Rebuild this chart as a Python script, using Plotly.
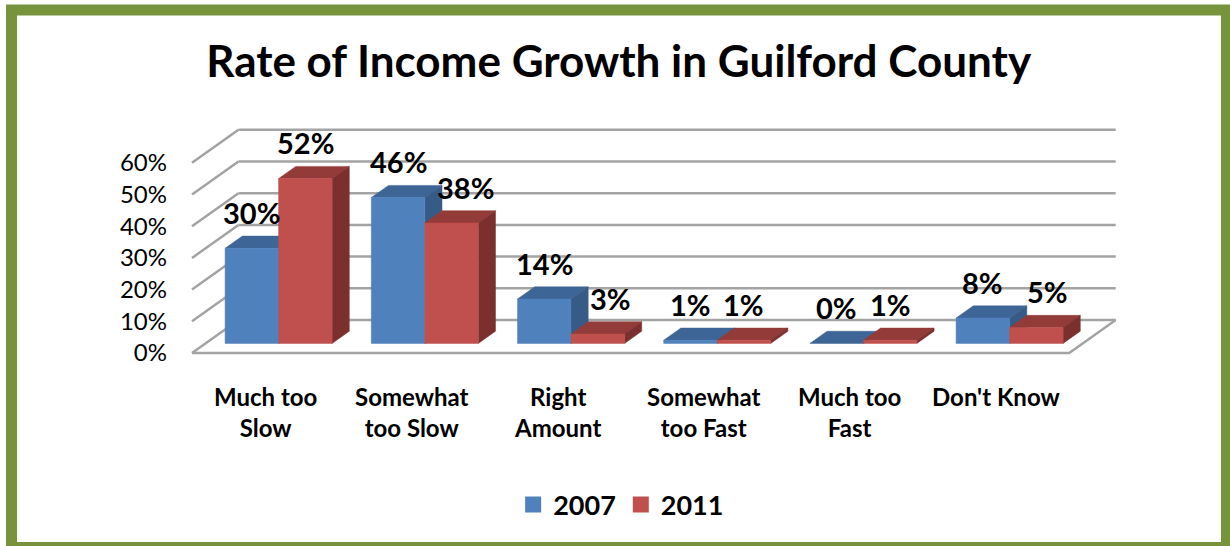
import plotly.graph_objects as go

# ---- data ----
categories = ["Much too<br>Slow", "Somewhat<br>too Slow", "Right<br>Amount",
              "Somewhat<br>too Fast", "Much too<br>Fast", "Don't Know"]
series_names = ["2007", "2011"]
values_2007 = [30, 46, 14, 1, 0, 8]
values_2011 = [52, 38, 3, 1, 1, 5]
tick_values = [0, 10, 20, 30, 40, 50, 60]
tick_labels = ["0%", "10%", "20%", "30%", "40%", "50%", "60%"]

# ---- styling ----
W, H = 1230, 546
FONT = "Lato"
face_colors = {
    "2007": {"front": "#4F81BD", "top": "#3D6595", "side": "#375B87"},
    "2011": {"front": "#C0504D", "top": "#923B39", "side": "#7B302E"},
}
grid_color = "#a3a3a3"
border_color = "#77933C"

# pixel scale of the category / value axes on the front plane
PX_PER_CAT = 146.2
PX_PER_PCT = 3.17
FRONT_LEFT_PX = 192
FRONT_BASE_PX = 353

# oblique depth vector of the whole box (in data units)
DEPTH_X = 46.5 / PX_PER_CAT
DEPTH_Y = 33.0 / PX_PER_PCT
BAR_FRONT = 0.29          # depth fraction where bar fronts sit
BAR_DEPTH = 0.37          # depth fraction occupied by bars
BAR_W = 53.5 / PX_PER_CAT
N = len(categories)

label_nudge_px = {"2007": [0, 0, 0, 0, 0, 0], "2011": [0, 14, 13, 0, 0, 11]}

fig = go.Figure()

# ---- walls / grid ----
gx, gy = [], []
for v in tick_values:
    # back wall line
    gx += [DEPTH_X, N + DEPTH_X, None]
    gy += [v + DEPTH_Y, v + DEPTH_Y, None]
    # side wall line
    gx += [0, DEPTH_X, None]
    gy += [v, v + DEPTH_Y, None]
# floor front and right edges
gx += [0, N, N + DEPTH_X, None]
gy += [0, 0, DEPTH_Y, None]
fig.add_trace(go.Scatter(x=gx, y=gy, mode="lines",
                         line=dict(color=grid_color, width=2.5),
                         hoverinfo="skip", showlegend=False))

# ---- 3D bars (painter's order: left to right) ----
fx = DEPTH_X * BAR_FRONT
fy = DEPTH_Y * BAR_FRONT
dx = DEPTH_X * BAR_DEPTH
dy = DEPTH_Y * BAR_DEPTH

def poly(xs, ys, color):
    fig.add_trace(go.Scatter(x=xs + [xs[0]], y=ys + [ys[0]], mode="lines",
                             fill="toself", fillcolor=color,
                             line=dict(color=color, width=0.5),
                             hoverinfo="skip", showlegend=False))

annotations = []
for i in range(N):
    center = i + 0.5 + fx
    for k, (name, vals) in enumerate(zip(series_names, [values_2007, values_2011])):
        v = vals[i]
        x0 = center - BAR_W + k * BAR_W
        x1 = x0 + BAR_W
        b = fy
        t = fy + v
        c = face_colors[name]
        # top face
        poly([x0, x1, x1 + dx, x0 + dx], [t, t, t + dy, t + dy], c["top"])
        # right side face
        poly([x1, x1 + dx, x1 + dx, x1], [b, b + dy, t + dy, t], c["side"])
        # front face
        if v > 0:
            poly([x0, x1, x1, x0], [b, b, t, t], c["front"])
        annotations.append(dict(
            x=(x0 + x1) / 2, y=t + dy, xref="x", yref="y",
            text=f"<b>{v}%</b>", showarrow=False,
            xanchor="center", yanchor="bottom",
            yshift=4, xshift=label_nudge_px[name][i],
            font=dict(family=FONT, size=29, color="black")))

# category labels under the floor
for i, cat in enumerate(categories):
    annotations.append(dict(
        x=i + 0.5, y=0, xref="x", yref="y", text=f"<b>{cat}</b>",
        showarrow=False, xanchor="center", yanchor="top", yshift=-27,
        font=dict(family=FONT, size=24, color="black")))

# legend entries
for name in series_names:
    fig.add_trace(go.Scatter(x=[None], y=[None], mode="markers",
                             name=f"<b>{name}</b>",
                             marker=dict(symbol="square", size=17,
                                         color=face_colors[name]["front"])))

x_lo = -FRONT_LEFT_PX / PX_PER_CAT
x_hi = (W - FRONT_LEFT_PX) / PX_PER_CAT
y_hi = FRONT_BASE_PX / PX_PER_PCT
y_lo = -(H - FRONT_BASE_PX) / PX_PER_PCT

fig.update_layout(
    width=W, height=H,
    margin=dict(l=0, r=0, t=0, b=0),
    paper_bgcolor="white", plot_bgcolor="white",
    title=dict(text="<b>Rate of Income Growth in Guilford County</b>",
               x=0.503, xanchor="center", y=1 - 62 / H, yanchor="middle",
               font=dict(family=FONT, size=44, color="black")),
    xaxis=dict(range=[x_lo, x_hi], visible=False, fixedrange=True),
    yaxis=dict(range=[y_lo, y_hi], anchor="free", position=167 / W,
               tickvals=tick_values, ticktext=tick_labels,
               ticks="", showgrid=False, zeroline=False, showline=False,
               tickfont=dict(family=FONT, size=24, color="black")),
    showlegend=True,
    legend=dict(orientation="h", x=0.505, xanchor="center",
                y=1 - 505 / H, yanchor="middle",
                font=dict(family=FONT, size=27, color="black"),
                itemclick=False, bgcolor="rgba(0,0,0,0)"),
    annotations=annotations,
    shapes=[dict(type="rect", xref="paper", yref="paper",
                 x0=11.5 / W, x1=1226.5 / W,
                 y0=1 - 547.5 / H, y1=1 - 10 / H,
                 line=dict(color=border_color, width=11))],
)

fig.write_html("out.html")
